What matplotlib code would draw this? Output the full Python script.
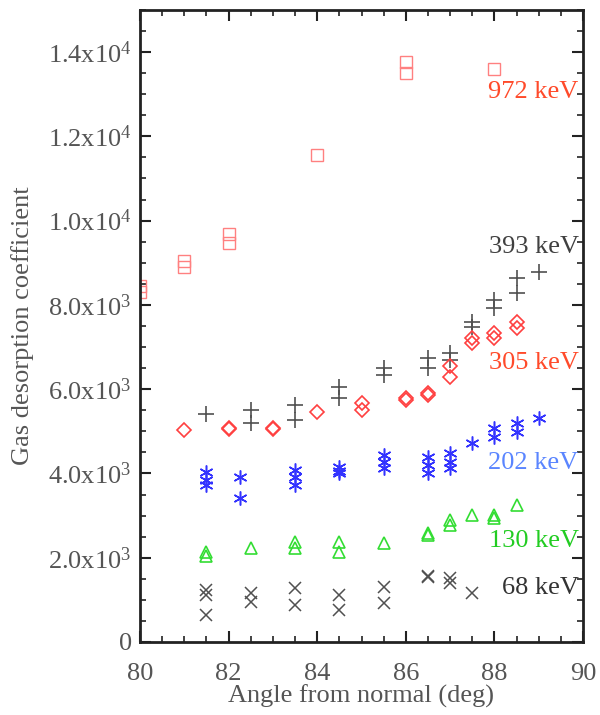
import numpy as np
import matplotlib
matplotlib.use('Agg')
import matplotlib.pyplot as plt
from matplotlib.ticker import MultipleLocator, FuncFormatter

plt.rcParams['font.family'] = ['Liberation Serif', 'DejaVu Serif']
plt.rcParams['mathtext.fontset'] = 'custom'
plt.rcParams['mathtext.rm'] = 'Liberation Serif'
plt.rcParams['mathtext.it'] = 'Liberation Serif:italic'

# 972 keV (squares)
x972 = [80, 80, 81, 81, 82, 82, 84, 86, 86, 88]
y972 = [8300, 8450, 8900, 9050, 9480, 9680, 11550, 13500, 13760, 13610]

# 393 keV (plus)
x393 = [81.5, 82.5, 82.5, 83.5, 83.5, 84.5, 84.5, 85.5, 85.5, 86.5, 86.5,
        87, 87, 87.5, 87.5, 88, 88, 88.5, 88.5, 89]
y393 = [5400, 5500, 5200, 5620, 5270, 6050, 5800, 6500, 6330, 6740, 6500,
        6850, 6700, 7590, 7470, 8110, 7920, 8630, 8280, 8780]

# 305 keV (diamonds)
x305 = [81, 82, 82, 83, 83, 84, 85, 85, 86, 86, 86.5, 86.5,
        87, 87, 87.5, 87.5, 88, 88, 88.5, 88.5]
y305 = [5030, 5075, 5060, 5075, 5060, 5455, 5670, 5500, 5740, 5800, 5860, 5920,
        6550, 6300, 7210, 7090, 7330, 7210, 7590, 7450]

# 202 keV (asterisks)
x202 = [81.5, 81.5, 81.5, 82.25, 82.25, 83.5, 83.5, 83.5, 84.5, 84.5, 84.5,
        85.5, 85.5, 85.5, 86.5, 86.5, 86.5, 87, 87, 87, 87.5, 88, 88,
        88.5, 88.5, 89]
y202 = [4030, 3840, 3720, 3910, 3415, 4080, 3910, 3720, 4150, 4050, 4000,
        4440, 4270, 4130, 4390, 4200, 4010, 4480, 4270, 4130, 4720, 5075, 4860,
        5190, 4980, 5310]

# 130 keV (triangles)
x130 = [81.5, 81.5, 82.5, 83.5, 83.5, 84.5, 84.5, 85.5, 86.5, 86.5,
        87, 87, 87.5, 88, 88, 88.5]
y130 = [2130, 2050, 2230, 2370, 2230, 2370, 2130, 2350, 2580, 2530,
        2890, 2780, 3010, 3010, 2940, 3250]

# 68 keV (crosses)
x68 = [81.5, 81.5, 81.5, 82.5, 82.5, 83.5, 83.5, 84.5, 84.5, 85.5, 85.5,
       86.5, 86.5, 87, 87, 87.5]
y68 = [1230, 1115, 640, 1160, 950, 1280, 880, 1115, 760, 1300, 925,
       1540, 1560, 1520, 1400, 1160]

fig = plt.figure(figsize=(6.0, 7.15), dpi=100)
ax = fig.add_axes([0.2333, 0.1021, 0.7384, 0.884])

ax.plot(x972, y972, 's', mfc='none', mec='#ff8080', ms=8.5, mew=1.0, ls='none')
ax.plot(x393, y393, '+', color='#505050', ms=11, mew=1.2, ls='none')
ax.plot(x305, y305, 'D', mfc='none', mec='#ff4040', ms=7.5, mew=1.2, ls='none')
ax.plot(x202, y202, marker=(6, 2, 0), color='#3333ff', ms=10, mew=1.1, ls='none')
ax.plot(x130, y130, '^', mfc='none', mec='#33dd33', ms=8, mew=1.2, ls='none')
ax.plot(x68, y68, 'x', color='#505050', ms=8, mew=1.1, ls='none')

ax.text(89.9, 13050, '972 keV', color='#ff4a2a', fontsize=19, ha='right', va='center')
ax.text(89.9, 9370, '393 keV', color='#404040', fontsize=19, ha='right', va='center')
ax.text(89.9, 6620, '305 keV', color='#ff4a2a', fontsize=19, ha='right', va='center')
ax.text(89.9, 4250, '202 keV', color='#5a85ff', fontsize=19, ha='right', va='center')
ax.text(89.9, 2400, '130 keV', color='#22cc22', fontsize=19, ha='right', va='center')
ax.text(89.9, 1280, '68 keV', color='#333333', fontsize=19, ha='right', va='center')

ax.set_xlim(80, 90)
ax.set_ylim(0, 15000)
ax.xaxis.set_major_locator(MultipleLocator(2))
ax.xaxis.set_minor_locator(MultipleLocator(0.5))
ax.yaxis.set_major_locator(MultipleLocator(2000))
ax.yaxis.set_minor_locator(MultipleLocator(500))


def yfmt(v, pos):
    if v <= 0:
        return '0'
    e = int(np.floor(np.log10(v)))
    m = v / 10 ** e
    return '%.1fx10$^{%d}$' % (m, e)


ax.yaxis.set_major_formatter(FuncFormatter(yfmt))
ax.tick_params(which='both', direction='in', top=True, right=True,
               colors='#222222', labelcolor='#555555', labelsize=19)
ax.tick_params(which='major', length=8, width=1.5)
ax.tick_params(which='minor', length=4, width=1.2)
ax.tick_params(axis='x', which='major', pad=15)
ax.tick_params(axis='y', which='major', pad=6)
for s in ax.spines.values():
    s.set_linewidth(2)
    s.set_color('#222222')

ax.set_xlabel('Angle from normal (deg)', fontsize=19, color='#555555', labelpad=0)
ax.set_ylabel('Gas desorption coefficient', fontsize=19, color='#555555', labelpad=10)

plt.savefig('out.png', dpi=100)
